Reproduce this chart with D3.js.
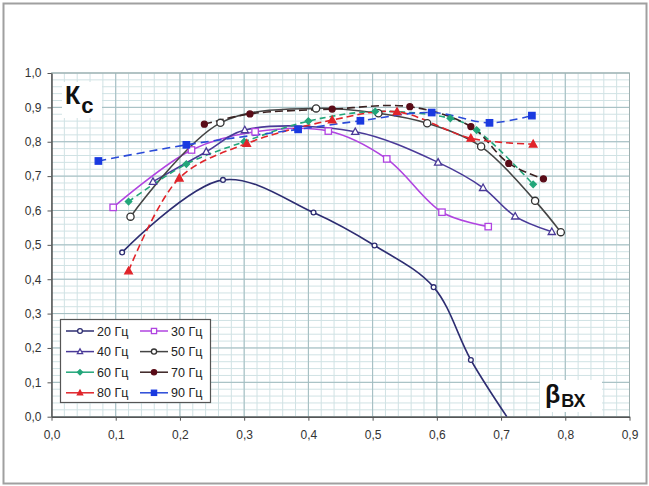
<!DOCTYPE html>
<html><head><meta charset="utf-8">
<script src="https://cdn.jsdelivr.net/npm/d3@7"></script>
<style>body{margin:0;background:#fff;}svg{display:block;font-family:Arial,"Liberation Sans",sans-serif;}</style>
</head><body>
<script>
const xTicks = ["0,0","0,1","0,2","0,3","0,4","0,5","0,6","0,7","0,8","0,9"];
const yTicks = ["0,0","0,1","0,2","0,3","0,4","0,5","0,6","0,7","0,8","0,9","1,0"];
const seriesNames = ["20 Гц","30 Гц","40 Гц","50 Гц","60 Гц","70 Гц","80 Гц","90 Гц"];
const s20 = [[0.110,0.478],[0.267,0.689],[0.408,0.594],[0.503,0.498],[0.595,0.377],[0.653,0.165],[0.709,0.0]];
const s30 = [[0.096,0.609],[0.218,0.776],[0.317,0.829],[0.431,0.831],[0.522,0.750],[0.608,0.595],[0.680,0.553]];
const s40 = [[0.158,0.684],[0.241,0.771],[0.301,0.834],[0.473,0.829],[0.602,0.740],[0.672,0.666],[0.722,0.583],[0.779,0.538]];
const s50 = [[0.123,0.582],[0.263,0.855],[0.412,0.897],[0.509,0.883],[0.585,0.854],[0.669,0.786],[0.753,0.628],[0.793,0.537]];
const s60 = [[0.120,0.626],[0.210,0.735],[0.300,0.800],[0.400,0.860],[0.504,0.888],[0.621,0.868],[0.662,0.834],[0.750,0.676]];
const s70 = [[0.238,0.851],[0.309,0.881],[0.437,0.895],[0.558,0.902],[0.653,0.844],[0.712,0.737],[0.766,0.692]];
const s80 = [[0.120,0.424],[0.199,0.694],[0.304,0.795],[0.437,0.863],[0.538,0.887],[0.653,0.810],[0.750,0.793]];
const s90 = [[0.073,0.744],[0.210,0.791],[0.384,0.836],[0.481,0.861],[0.592,0.885],[0.682,0.855],[0.748,0.876]];

const seriesData = [s20,s30,s40,s50,s60,s70,s80,s90];
const styles = [
  {line:"#2e2e72", fill:"#fff", stroke:"#2e2e72", marker:"circle", size:2.4, dash:null},
  {line:"#b044e0", fill:"#fff", stroke:"#b044e0", marker:"square", size:3.2, dash:null},
  {line:"#4a3a98", fill:"#fff", stroke:"#4a3a98", marker:"triangle", size:3.6, dash:null},
  {line:"#454545", fill:"#fff", stroke:"#333", marker:"circle", size:3.6, dash:null},
  {line:"#22a67a", fill:"#22a67a", stroke:"#22a67a", marker:"diamond", size:3.2, dash:"6,4"},
  {line:"#3a2222", fill:"#5a0c18", stroke:"#5a0c18", marker:"circle", size:3, dash:"8,4"},
  {line:"#e0242a", fill:"#e0242a", stroke:"#e0242a", marker:"triangle", size:3.8, dash:"7,4"},
  {line:"#2a4ad8", fill:"#1a3ae0", stroke:"#1a3ae0", marker:"square", size:3.2, dash:"8,5"}
];

const W=649,H=486;
const M={left:51.5,right:629.5,top:73,bottom:416.7};
const svg=d3.select("body").append("svg").attr("width",W).attr("height",H);
svg.append("rect").attr("x",3.5).attr("y",3.5).attr("width",643).attr("height",480)
  .attr("fill","#fff").attr("stroke","#a0a0a0").attr("stroke-width",2);

const x=d3.scaleLinear().domain([0,0.9]).range([M.left,M.right]);
const y=d3.scaleLinear().domain([0,1]).range([M.bottom,M.top]);

const g=svg.append("g");
const minorX=d3.range(0,0.9001,0.02), minorY=d3.range(0,1.0001,0.02);
g.selectAll(".mx").data(minorX).enter().append("line")
 .attr("x1",d=>x(d)).attr("x2",d=>x(d)).attr("y1",M.top).attr("y2",M.bottom)
 .attr("stroke","#d0e2e4").attr("stroke-width",1);
g.selectAll(".my").data(minorY).enter().append("line")
 .attr("y1",d=>y(d)).attr("y2",d=>y(d)).attr("x1",M.left).attr("x2",M.right)
 .attr("stroke","#d0e2e4").attr("stroke-width",1);
const majX=xTicks.map((t,i)=>i*0.1), majY=yTicks.map((t,i)=>i*0.1);
g.selectAll(".Mx").data(majX).enter().append("line")
 .attr("x1",d=>x(d)).attr("x2",d=>x(d)).attr("y1",M.top).attr("y2",M.bottom)
 .attr("stroke","#a2bcc0").attr("stroke-width",1);
g.selectAll(".My").data(majY).enter().append("line")
 .attr("y1",d=>y(d)).attr("y2",d=>y(d)).attr("x1",M.left).attr("x2",M.right)
 .attr("stroke","#a2bcc0").attr("stroke-width",1);
g.append("rect").attr("x",M.left).attr("y",M.top).attr("width",M.right-M.left).attr("height",M.bottom-M.top)
 .attr("fill","none").attr("stroke","#9fb0b0").attr("stroke-width",1);

const xAxis=d3.axisBottom(x).tickValues(majX).tickFormat((d,i)=>xTicks[i]).tickSize(4).tickSizeOuter(0);
const yAxis=d3.axisLeft(y).tickValues(majY).tickFormat((d,i)=>yTicks[i]).tickSize(4).tickSizeOuter(0);
const gx=svg.append("g").attr("transform",`translate(0,${M.bottom})`).call(xAxis);
const gy=svg.append("g").attr("transform",`translate(${M.left},0)`).call(yAxis);
[gx,gy].forEach(a=>{a.select(".domain").attr("stroke","#555").attr("stroke-width",1.5);
 a.selectAll(".tick line").attr("stroke","#555");
 a.selectAll("text").attr("fill","#333").attr("font-size","12px").attr("font-family","Arial, Liberation Sans, sans-serif");});
gx.selectAll("text").attr("dy","1.3em");
gy.selectAll("text").attr("dx","-3");

svg.append("rect").attr("x",62).attr("y",82).attr("width",40).attr("height",36).attr("fill","#fff");
svg.append("text").attr("x",65).attr("y",104).attr("font-size","25px").attr("font-weight","bold").attr("fill","#111")
 .text("К").append("tspan").attr("dy",9).attr("dx",1).attr("font-size","22px").text("с");
svg.append("rect").attr("x",540).attr("y",380).attr("width",62).attr("height",32).attr("fill","#fff");
svg.append("text").attr("x",545).attr("y",403).attr("font-size","25px").attr("font-weight","bold").attr("fill","#111")
 .text("β").append("tspan").attr("dy",4).attr("dx",1).attr("font-size","18px").text("ВХ");

svg.append("clipPath").attr("id","clip").append("rect")
 .attr("x",M.left).attr("y",M.top-10).attr("width",M.right-M.left).attr("height",M.bottom-M.top+10);

const line=d3.line().x(d=>x(d[0])).y(d=>y(d[1])).curve(d3.curveCatmullRom.alpha(0.5));
const plot=svg.append("g").attr("clip-path","url(#clip)");

function drawMarker(sel,st,cx,cy,s){
  if(st.marker==="circle") sel.append("circle").attr("cx",cx).attr("cy",cy).attr("r",s);
  else if(st.marker==="square") sel.append("rect").attr("x",cx-s).attr("y",cy-s).attr("width",2*s).attr("height",2*s);
  else if(st.marker==="triangle") sel.append("path").attr("d",`M${cx},${cy-s*1.05}L${cx+s},${cy+s*0.75}L${cx-s},${cy+s*0.75}Z`);
  else if(st.marker==="diamond") sel.append("path").attr("d",`M${cx},${cy-s}L${cx+s},${cy}L${cx},${cy+s}L${cx-s},${cy}Z`);
  sel.selectAll("*").attr("fill",st.fill).attr("stroke",st.stroke).attr("stroke-width",1.3);
}

seriesData.forEach((data,i)=>{
  const st=styles[i];
  plot.append("path").datum(data).attr("d",line).attr("fill","none")
   .attr("stroke",st.line).attr("stroke-width",1.6).attr("stroke-dasharray",st.dash);
});
seriesData.forEach((data,i)=>{
  const st=styles[i];
  data.filter(d=>d[1]>0).forEach(d=>{
    drawMarker(plot.append("g"),st,x(d[0]),y(d[1]),st.size);
  });
});

const lg=svg.append("g");
lg.append("rect").attr("x",60.5).attr("y",319.5).attr("width",150).attr("height",83)
 .attr("fill","#fff").attr("stroke","#555").attr("stroke-width",1.2);
seriesNames.forEach((n,i)=>{
  const col=i%2,row=Math.floor(i/2);
  const lx=col===0?66:140, ly=331+row*20.6;
  const st=styles[i];
  lg.append("line").attr("x1",lx).attr("x2",lx+28).attr("y1",ly).attr("y2",ly)
   .attr("stroke",st.line).attr("stroke-width",1.5);
  drawMarker(lg.append("g"),st,lx+14,ly,Math.min(st.size,2.6));
  lg.append("text").attr("x",lx+31).attr("y",ly+4.5).attr("font-size","12.5px").attr("fill","#222").text(n);
});
</script>
</body></html>
